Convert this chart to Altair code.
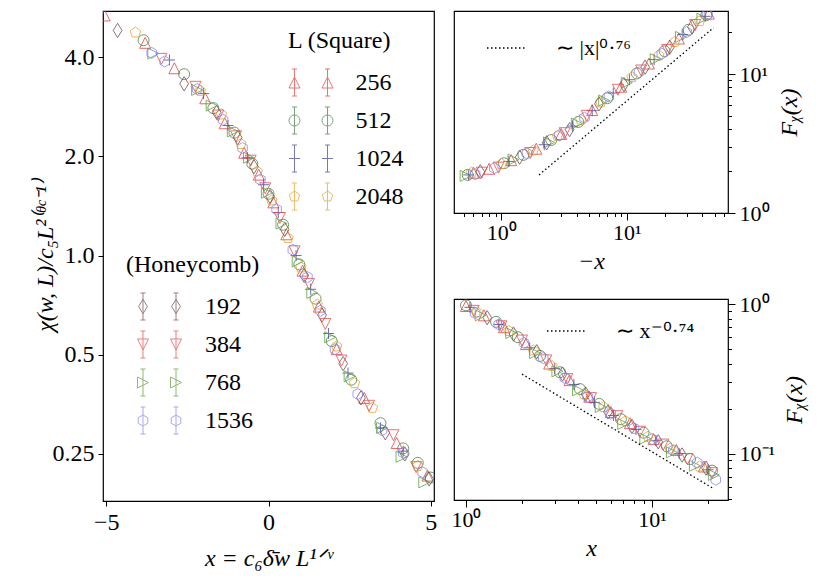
import math
import altair as alt
import pandas as pd

FONT = "Liberation Serif"

SQUARE = ["256", "512", "1024", "2048"]
HONEY = ["192", "384", "768", "1536"]
SERIES = SQUARE + HONEY
COLORS = ["#e23b3b", "#3f7f3f", "#40409a", "#e6a028",
          "#6e4848", "#e34848", "#5c9e3c", "#8585f5"]
KINDS = ["tri_up", "circle", "plus", "pent", "diam", "tri_down", "tri_right", "hex"]

# ---------------- left panel: chi / c5 L^{2(theta_c-1)} vs x ----------------
L_256_X = [-5.05, -3.80, -2.90, -1.95, -1.35, -0.75, -0.30, 0.15, 0.55, 1.05, 1.55, 2.10, 2.95, 3.95, 4.90]
L_256_Y = [5.35, 4.42, 3.70, 3.00, 2.52, 2.05, 1.76, 1.45, 1.16, 0.90, 0.70, 0.52, 0.37, 0.27, 0.215]
L_512_X = [-3.85, -2.60, -1.70, -1.05, -0.50, 0.00, 0.45, 0.95, 1.45, 1.95, 2.55, 3.45, 4.15, 4.60, 5.00]
L_512_Y = [4.50, 3.55, 2.80, 2.36, 1.90, 1.54, 1.24, 0.94, 0.74, 0.55, 0.42, 0.31, 0.26, 0.235, 0.212]
L_1024_X = [-3.05, -2.00, -1.25, -0.65, -0.15, 0.30, 0.85, 1.30, 1.85, 2.45, 3.45, 4.15]
L_1024_Y = [3.92, 3.10, 2.48, 1.98, 1.64, 1.35, 1.00, 0.79, 0.58, 0.44, 0.30, 0.255]
L_2048_X = [-4.10, -2.10, -1.45, -0.85, -0.35, 0.10, 0.60, 1.00, 1.50, 2.10, 2.65, 3.20, 4.60]
L_2048_Y = [4.75, 3.16, 2.68, 2.18, 1.80, 1.47, 1.13, 0.92, 0.71, 0.53, 0.41, 0.345, 0.23]
L_192_X = [-4.65, -2.60, -1.60, -0.95, -0.45, 0.05, 0.50, 1.10, 1.65, 2.30, 2.85, 3.60, 4.20, 4.95]
L_192_Y = [4.82, 3.32, 2.72, 2.28, 1.86, 1.51, 1.20, 0.87, 0.66, 0.47, 0.37, 0.29, 0.25, 0.21]
L_384_X = [-3.30, -2.25, -1.55, -1.00, -0.55, -0.10, 0.35, 0.80, 1.25, 1.75, 2.25, 3.10, 3.85, 4.55]
L_384_Y = [3.95, 3.25, 2.66, 2.30, 1.94, 1.60, 1.30, 1.03, 0.82, 0.62, 0.48, 0.35, 0.285, 0.228]
L_768_X = [-3.55, -2.20, -1.75, -1.10, -0.60, -0.05, 0.40, 0.90, 1.35, 1.90, 2.50, 3.50, 4.10, 4.80]
L_768_Y = [4.10, 3.18, 2.85, 2.38, 1.98, 1.55, 1.25, 0.96, 0.77, 0.565, 0.43, 0.30, 0.245, 0.205]
L_1536_X = [-3.60, -3.20, -2.20, -1.40, -0.80, -0.25, 0.25, 0.75, 1.20, 1.60, 2.05, 2.75, 3.50, 4.15, 4.75]
L_1536_Y = [4.12, 3.88, 3.20, 2.58, 2.12, 1.70, 1.38, 1.04, 0.86, 0.68, 0.52, 0.38, 0.295, 0.252, 0.22]

# ---------------- top right: F_chi vs -x (x < 0) ----------------
T_256_X = [0.60, 0.80, 1.20, 1.90, 3.00, 5.30, 9.00, 15.0, 26.0, 45.0]
T_256_Y = [1.95, 2.08, 2.40, 2.90, 3.70, 5.50, 8.10, 11.9, 18.0, 27.2]
T_512_X = [0.54, 1.05, 1.50, 2.50, 4.10, 7.00, 12.0, 20.0, 31.0, 43.0]
T_512_Y = [1.88, 2.28, 2.62, 3.35, 4.52, 6.70, 10.1, 14.6, 20.8, 26.5]
T_1024_X = [0.55, 1.15, 2.20, 3.70, 5.30, 7.80, 10.5, 16.5, 28.0, 42.0]
T_1024_Y = [1.88, 2.35, 3.10, 4.22, 5.45, 7.30, 9.10, 12.7, 19.2, 26.0]
T_2048_X = [0.58, 1.00, 1.80, 2.80, 4.30, 6.20, 11.0, 18.0, 24.0, 38.0]
T_2048_Y = [1.95, 2.25, 2.82, 3.58, 4.68, 6.25, 9.50, 13.6, 17.0, 24.0]
T_192_X = [0.68, 1.40, 2.30, 3.50, 6.00, 9.50, 14.0, 22.0, 33.0]
T_192_Y = [1.98, 2.52, 3.20, 3.98, 6.10, 8.40, 11.2, 15.6, 21.8]
T_384_X = [0.70, 0.95, 1.70, 3.20, 4.80, 8.50, 13.0, 21.0, 35.0]
T_384_Y = [1.95, 2.12, 2.70, 3.75, 5.00, 7.70, 10.6, 14.9, 22.5]
T_768_X = [0.52, 1.25, 2.40, 4.00, 6.60, 10.0, 17.0, 27.0, 40.0]
T_768_Y = [1.85, 2.42, 3.22, 4.40, 6.45, 8.65, 12.8, 18.5, 25.0]
T_1536_X = [0.62, 0.88, 1.60, 2.90, 4.60, 7.20, 12.5, 19.0, 30.0, 44.0]
T_1536_Y = [1.90, 2.10, 2.68, 3.62, 4.85, 6.90, 10.3, 14.0, 20.0, 26.8]

# ---------------- bottom right: F_chi vs x (x > 0) ----------------
B_256_X = [1.00, 1.25, 1.60, 2.10, 2.80, 3.60, 4.60, 6.00, 7.60, 10.2, 13.5, 19.0]
B_256_Y = [0.97, 0.84, 0.70, 0.54, 0.40, 0.31, 0.24, 0.19, 0.16, 0.125, 0.106, 0.082]
B_512_X = [1.00, 1.45, 1.90, 2.50, 3.20, 4.10, 5.20, 6.80, 9.00, 12.0, 16.0, 21.0]
B_512_Y = [0.98, 0.76, 0.60, 0.45, 0.35, 0.27, 0.215, 0.17, 0.138, 0.112, 0.092, 0.077]
B_1024_X = [1.05, 1.50, 2.20, 3.00, 3.80, 4.90, 6.20, 8.20, 10.5, 14.0, 20.0]
B_1024_Y = [0.95, 0.73, 0.51, 0.37, 0.29, 0.22, 0.18, 0.145, 0.122, 0.100, 0.078]
B_2048_X = [1.15, 1.70, 2.30, 2.90, 4.30, 5.50, 7.20, 9.50, 12.5, 18.0]
B_2048_Y = [0.88, 0.66, 0.49, 0.385, 0.25, 0.205, 0.165, 0.130, 0.108, 0.082]
B_192_X = [1.30, 1.80, 2.40, 3.30, 4.40, 5.80, 7.80, 10.8, 14.5, 19.5]
B_192_Y = [0.81, 0.63, 0.48, 0.34, 0.25, 0.19, 0.152, 0.120, 0.098, 0.080]
B_384_X = [1.10, 1.55, 2.00, 2.70, 3.50, 4.70, 6.50, 8.60, 11.5, 15.5, 21.0]
B_384_Y = [0.90, 0.71, 0.57, 0.42, 0.315, 0.235, 0.178, 0.140, 0.115, 0.092, 0.074]
B_768_X = [1.20, 1.75, 2.35, 3.10, 4.00, 5.30, 7.00, 9.20, 12.8, 17.0, 21.5]
B_768_Y = [0.84, 0.64, 0.47, 0.355, 0.265, 0.205, 0.158, 0.126, 0.102, 0.083, 0.072]
B_1536_X = [1.12, 1.50, 2.05, 2.60, 3.40, 4.50, 6.00, 8.00, 10.0, 13.0, 17.5, 22.0]
B_1536_Y = [0.87, 0.73, 0.55, 0.435, 0.32, 0.24, 0.185, 0.148, 0.125, 0.105, 0.087, 0.067]

# guide power laws (end points of dotted lines)
GUIDE_TOP_X = [2.0, 49.0]
GUIDE_TOP_Y = [1.88, 21.5]
GUIDE_TOP_LABEL = "∼ |x|⁰·⁷⁶"
GUIDE_BOT_X = [2.0, 21.6]
GUIDE_BOT_Y = [0.34, 0.058]
GUIDE_BOT_LABEL = "∼ x⁻⁰·⁷⁴"

# tick values
LEFT_XTICKS = [-5, 0, 5]
LEFT_YTICKS = [0.25, 0.5, 1.0, 2.0, 4.0]
TR_XTICKS = [0.5, 0.6, 0.7, 0.8, 0.9, 1, 2, 3, 4, 5, 6, 7, 8, 9, 10, 20, 30, 40, 50, 60]
TR_YTICKS = [1, 2, 3, 4, 5, 6, 7, 8, 9, 10, 20]
BR_XTICKS = [1, 2, 3, 4, 5, 6, 7, 8, 9, 10, 20]
BR_YTICKS = [0.05, 0.06, 0.07, 0.08, 0.09, 0.1, 0.2, 0.3, 0.4, 0.5, 0.6, 0.7, 0.8, 0.9, 1.0]

LEFT = {"256": (L_256_X, L_256_Y), "512": (L_512_X, L_512_Y), "1024": (L_1024_X, L_1024_Y),
        "2048": (L_2048_X, L_2048_Y), "192": (L_192_X, L_192_Y), "384": (L_384_X, L_384_Y),
        "768": (L_768_X, L_768_Y), "1536": (L_1536_X, L_1536_Y)}
TOP = {"256": (T_256_X, T_256_Y), "512": (T_512_X, T_512_Y), "1024": (T_1024_X, T_1024_Y),
       "2048": (T_2048_X, T_2048_Y), "192": (T_192_X, T_192_Y), "384": (T_384_X, T_384_Y),
       "768": (T_768_X, T_768_Y), "1536": (T_1536_X, T_1536_Y)}
BOT = {"256": (B_256_X, B_256_Y), "512": (B_512_X, B_512_Y), "1024": (B_1024_X, B_1024_Y),
       "2048": (B_2048_X, B_2048_Y), "192": (B_192_X, B_192_Y), "384": (B_384_X, B_384_Y),
       "768": (B_768_X, B_768_Y), "1536": (B_1536_X, B_1536_Y)}


def frame(d):
    rows = []
    for s, (xs, ys) in d.items():
        for xv, yv in zip(xs, ys):
            rows.append({"series": s, "x": xv, "y": yv})
    return pd.DataFrame(rows)


# ---------------- marker shapes (SVG paths in unit box) ----------------
POLYS = {
    "tri_up": [(0, -1), (1, 1), (-1, 1)],
    "tri_down": [(0, 1), (1, -1), (-1, -1)],
    "tri_right": [(1, 0), (-1, -1), (-1, 1)],
    "pent": [(math.sin(2 * math.pi * k / 5), -math.cos(2 * math.pi * k / 5)) for k in range(5)],
    "hex": [(math.sin(2 * math.pi * k / 6), -math.cos(2 * math.pi * k / 6)) for k in range(6)],
    "diam": [(0, -1.3), (0.8, 0), (0, 1.3), (-0.8, 0)],
}


def marker(kind, cx=0.0, s=1.0):
    if kind == "circle":
        return (f"M{cx + s:.4f},0A{s:.4f},{s:.4f},0,1,1,{cx - s:.4f},0"
                f"A{s:.4f},{s:.4f},0,1,1,{cx + s:.4f},0Z")
    if kind == "plus":
        return f"M{cx - s:.4f},0L{cx + s:.4f},0M{cx:.4f},{-s:.4f}L{cx:.4f},{s:.4f}"
    pts = POLYS[kind]
    return "M" + "L".join(f"{cx + s * px:.4f},{s * py:.4f}" for px, py in pts) + "Z"


def legend_path(kind):
    # two markers with error bars; unit = 21 px (symbol size 42 x 42)
    parts = []
    for cx in (-0.786, 0.786):
        parts.append(marker(kind, cx, 0.262))
        parts.append(f"M{cx:.4f},-0.643L{cx:.4f},0.643")
        parts.append(f"M{cx - 0.119:.4f},-0.643L{cx + 0.119:.4f},-0.643"
                     f"M{cx - 0.119:.4f},0.643L{cx + 0.119:.4f},0.643")
    return "".join(parts)


DATA_PATHS = [marker(k) for k in KINDS]
LEG_PATHS = [legend_path(k) for k in KINDS]


def ax(**kw):
    base = dict(labelFont=FONT, titleFont=FONT, labelColor="black", titleColor="black",
                tickColor="black", tickWidth=1, domain=False, grid=False,
                titleFontWeight="normal", titleFontStyle="italic")
    base.update(kw)
    return alt.Axis(**base)


def data_layer(df, x, y):
    return alt.Chart(df).mark_point(filled=False, size=121, strokeWidth=0.9,
                                    opacity=0.85, clip=True).encode(
        x=x, y=y,
        color=alt.Color("series:N", scale=alt.Scale(domain=SERIES, range=COLORS), legend=None),
        shape=alt.Shape("series:N", scale=alt.Scale(domain=SERIES, range=DATA_PATHS), legend=None),
    )


def legend_layer(x, y, labels, title, lx, ly, sym_off, lab_off, title_pad):
    idx = [SERIES.index(s) for s in labels]
    leg = alt.Legend(title=title, orient="none", legendX=lx, legendY=ly, padding=0,
                     titleFont=FONT, titleFontSize=24, titleFontWeight="normal", titleColor="black",
                     titlePadding=title_pad, labelFont=FONT, labelFontSize=24, labelColor="black",
                     symbolSize=1764, symbolStrokeWidth=1, symbolOffset=sym_off,
                     labelOffset=lab_off, rowPadding=-1.3, symbolFillColor="transparent")
    empty = pd.DataFrame({"series": pd.Series([], dtype=str),
                          "x": pd.Series([], dtype=float), "y": pd.Series([], dtype=float)})
    return alt.Chart(empty).mark_point(filled=False, size=1764, strokeWidth=1).encode(
        x=x, y=y,
        color=alt.Color("series:N", scale=alt.Scale(domain=labels, range=[COLORS[i] for i in idx]),
                        legend=leg),
        shape=alt.Shape("series:N", scale=alt.Scale(domain=labels, range=[LEG_PATHS[i] for i in idx]),
                        legend=leg),
    )


# ---------------- left panel ----------------
xL = alt.X("x:Q", scale=alt.Scale(domain=[-5.1, 5.1], nice=False, zero=False),
           axis=ax(values=LEFT_XTICKS, labelExpr="datum.value < 0 ? '−' + abs(datum.value) : datum.label",
                   labelFontSize=24, tickSize=5, labelPadding=4,
                   title="x = c₆δ̄w L¹ᐟᵛ", titleFontSize=24, titlePadding=12))
yL = alt.Y("y:Q", scale=alt.Scale(type="log", domain=[0.18, 5.52], nice=False),
           axis=ax(values=LEFT_YTICKS,
                   labelExpr="datum.value == 0.25 ? '0.25' : format(datum.value, '.1f')",
                   labelFontSize=24, tickSize=5, labelPadding=4,
                   title="χ(w, L)/c₅L²⁽ᶿᶜ⁻¹⁾", titleFontSize=24,
                   titleX=-58, titleY=245, titleAngle=270, titleBaseline="middle",
                   titleAlign="center"))

left = alt.layer(
    data_layer(frame(LEFT), xL, yL),
    legend_layer(xL, yL, SQUARE, "L (Square)", 185, 18, 1.5, 23, 8),
    legend_layer(xL, yL, HONEY, "(Honeycomb)", 23, 242, 12, 24, 8),
).resolve_scale(color="independent", shape="independent").properties(width=331, height=490)

# ---------------- right panels ----------------
IS_POW = "abs(log(datum.value)/LN10 - round(log(datum.value)/LN10)) < 1e-6"
POW_LABEL = ("(" + IS_POW + ") ? ('10' + (round(log(datum.value)/LN10) == 0 ? '⁰' : "
             "(round(log(datum.value)/LN10) == 1 ? '¹' : '⁻¹'))) : ''")
TICK_SIZE = {"condition": {"test": IS_POW, "value": 7}, "value": 3.5}


def right_panel(df, xdom, ydom, xticks, yticks, xtitle, ytitle, gx, gy, glabel, lx, ly, h):
    x = alt.X("x:Q", scale=alt.Scale(type="log", domain=xdom, nice=False),
              axis=ax(values=xticks, labelExpr=POW_LABEL, tickSize=TICK_SIZE, labelFontSize=22,
                      labelPadding=2, title=xtitle, titleFontSize=24, titlePadding=6))
    y = alt.Y("y:Q", scale=alt.Scale(type="log", domain=ydom, nice=False),
              axis=ax(values=yticks, labelExpr=POW_LABEL, tickSize=TICK_SIZE, labelFontSize=22,
                      labelPadding=4, orient="right", title=ytitle, titleFontSize=24,
                      titleAngle=270, titleBaseline="top", titlePadding=8))
    gdf = pd.DataFrame({"x": gx, "y": gy, "guide": [glabel] * len(gx)})
    guide = alt.Chart(gdf).mark_line(color="black", strokeWidth=1.3, clip=True).encode(
        x=x, y=y,
        strokeDash=alt.StrokeDash("guide:N", scale=alt.Scale(domain=[glabel], range=[[1.5, 2.5]]),
                                  legend=alt.Legend(title=None, orient="none", legendX=lx, legendY=ly,
                                                    padding=0, labelFont=FONT, labelFontSize=22,
                                                    labelColor="black", symbolSize=1444,
                                                    symbolStrokeWidth=1.3, labelOffset=30,
                                                    symbolStrokeColor="black")))
    return alt.layer(data_layer(df, x, y), guide).properties(width=274, height=h)


top = right_panel(frame(TOP), [0.42, 64], [1.0, 28.4], TR_XTICKS, TR_YTICKS, "−x", "Fᵪ(x)",
                  GUIDE_TOP_X, GUIDE_TOP_Y, GUIDE_TOP_LABEL, 32, 17, 202)
bot = right_panel(frame(BOT), [0.862, 25.6], [0.049, 1.08], BR_XTICKS, BR_YTICKS, "x", "Fᵪ(x)",
                  GUIDE_BOT_X, GUIDE_BOT_Y, GUIDE_BOT_LABEL, 92, 12, 201)

right = alt.vconcat(top, bot, spacing=86, bounds="flush").resolve_scale(
    color="independent", shape="independent", strokeDash="independent")

chart = alt.hconcat(left, right, spacing=20, bounds="flush").resolve_scale(
    color="independent", shape="independent", strokeDash="independent"
).properties(
    padding={"left": 24, "top": 2, "right": 5, "bottom": 5}
).configure(font=FONT).configure_view(stroke="black", strokeWidth=1.2)

chart.save("out.html", embed_options={"renderer": "svg", "actions": False})
